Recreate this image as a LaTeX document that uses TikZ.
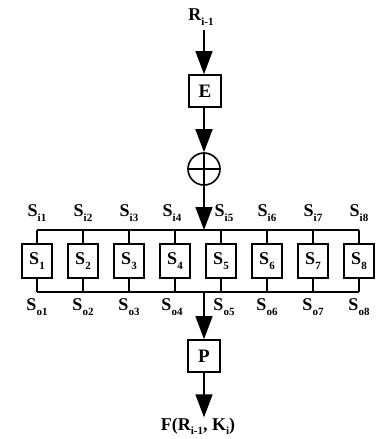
\documentclass[tikz,border=0pt]{standalone}
\usepackage{fontspec}
\setmainfont{Liberation Serif}
\usetikzlibrary{arrows.meta}
\newcommand{\lowidx}[1]{\raisebox{-0.25em}{\fontsize{11}{11}\selectfont #1}}
\begin{document}
\begin{tikzpicture}[x=1pt,y=-1pt,
  wire/.style={line width=1.6pt},
  flow/.style={wire,-{Triangle[width=17pt,length=23pt]}},
  fbox/.style={draw,line width=1.7pt,minimum width=32pt,minimum height=32pt,inner sep=0pt,font=\fontsize{19}{19}\selectfont\bfseries},
  sbox/.style={draw,line width=1.7pt,minimum width=30pt,minimum height=34pt,inner sep=0pt,font=\fontsize{18}{18}\selectfont\bfseries},
  lab/.style={inner sep=0pt,font=\fontsize{18}{18}\selectfont\bfseries}
]
\useasboundingbox (0,0) rectangle (386,439);

% input and expansion
\node[lab] (R) at (201,17) {R\lowidx{i-1}};
\coordinate (rtop) at (204,30);
\node[fbox] (E) at (205,91) {E};
\draw[flow] (rtop) -- (E.north -| rtop);

% key mixing
\node[draw,circle,line width=1.6pt,minimum size=32pt,inner sep=0pt] (X) at (204,169) {};
\draw[wire] (X.west) -- (X.east);
\draw[flow] (E.south -| rtop) -- (X.north);

% buses
\coordinate (tb) at (204,230);
\coordinate (tl) at (37,230);
\coordinate (tr) at (359,230);
\coordinate (bb) at (204,292);
\coordinate (bl) at (37,292);
\coordinate (br) at (359,292);
\draw[wire] (tl) -- (tr);
\draw[wire] (bl) -- (br);
\draw[flow] (X.north) -- (tb);

% S-boxes with input and output labels
\foreach \k in {1,...,8} {
  \pgfmathsetmacro{\xx}{37+46*(\k-1)}
  \node[sbox] (s\k) at (\xx,261) {S\lowidx{\k}};
  \draw[wire] (s\k.north) -- (s\k.north |- tl);
  \draw[wire] (s\k.south) -- (s\k.south |- bl);
}
\foreach \k/\dx in {1/0,2/0,3/0,4/-3,5/3,6/0,7/0,8/0} {
  \pgfmathsetmacro{\xx}{37+46*(\k-1)+\dx}
  \node[lab] (i\k) at (\xx,213) {S\lowidx{i\k}};
  \node[lab] (o\k) at (\xx,307) {S\lowidx{o\k}};
}

% permutation and output
\node[fbox] (P) at (204,356) {P};
\draw[flow] (bb) -- (P.north);
\node[lab] (F) at (198,426) {F(R\lowidx{i-1}, K\lowidx{i})};
\draw[flow] (P.south) -- (F.north -| P.south);
\end{tikzpicture}
\end{document}
